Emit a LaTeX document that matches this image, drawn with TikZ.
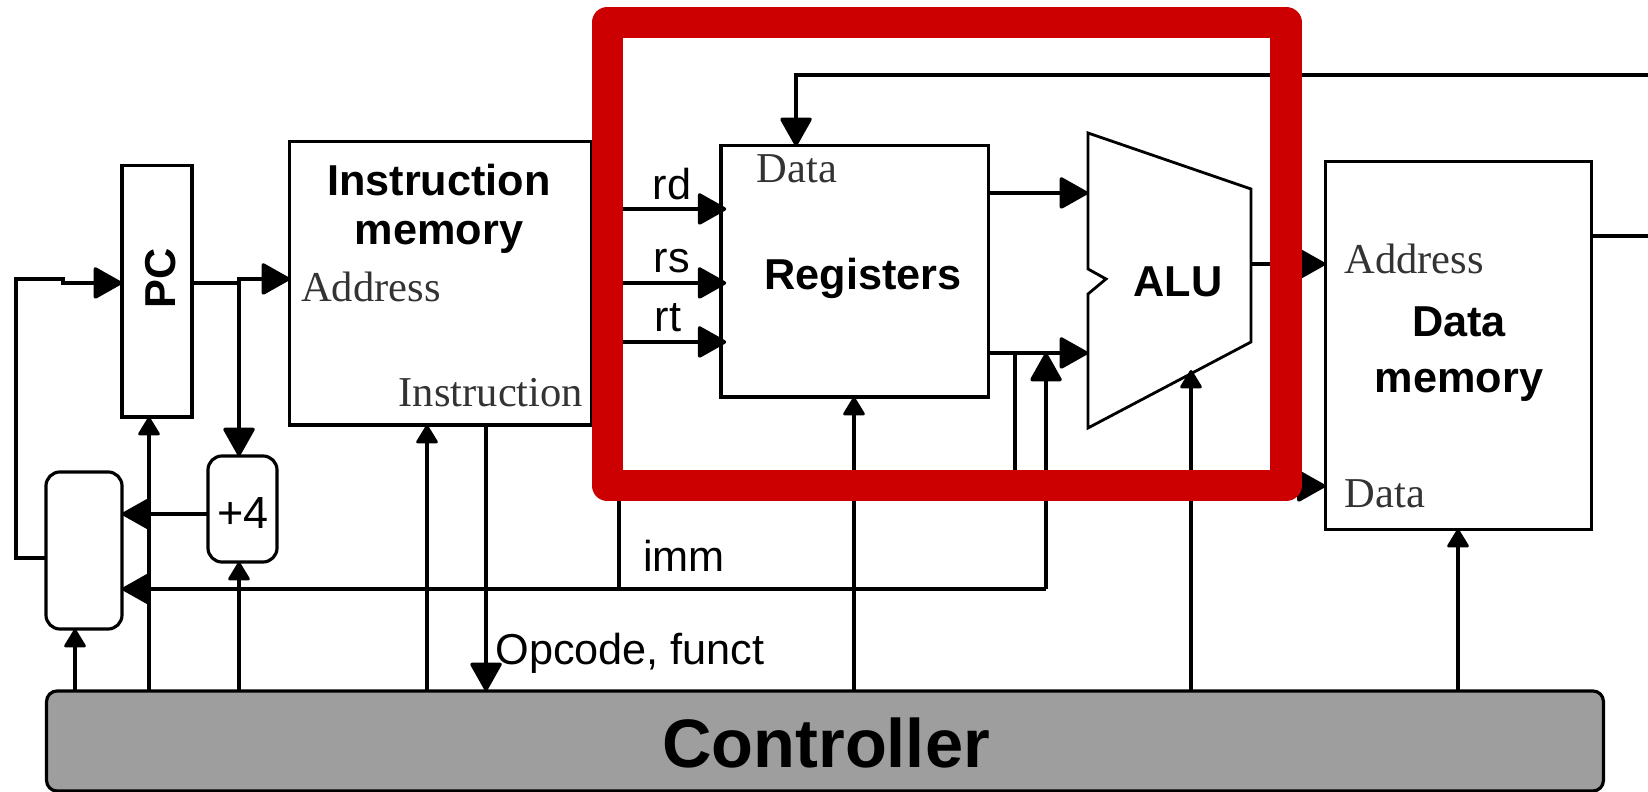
\documentclass[tikz,border=0pt]{standalone}
\usepackage{fontspec}
\setmainfont{Liberation Sans}
\newfontfamily\seriflabel{Liberation Serif}
\usetikzlibrary{arrows.meta}
\definecolor{framered}{HTML}{CC0000}
\definecolor{ctrlgray}{HTML}{9E9E9E}
\tikzset{
  unitbox/.style={draw=black, line width=0.9pt, outer sep=0pt, inner sep=0pt},
  bigwire/.style={draw=black, line width=0.9pt, -{Triangle[length=8.6pt, width=9.4pt, round, line width=1pt]}},
  smallwire/.style={draw=black, line width=0.9pt, -{Triangle[length=5.6pt, width=6.6pt, round, line width=0.8pt]}},
  plainwire/.style={draw=black, line width=0.9pt},
  boldlabel/.style={font=\fontsize{12.3}{14}\selectfont\bfseries, align=center, inner sep=0pt},
  sanslabel/.style={font=\fontsize{12.3}{14}\selectfont, inner sep=0pt},
  portlabel/.style={font=\fontsize{12.1}{14}\selectfont\seriflabel, text=black!80, inner sep=0pt}
}

\begin{document}
\begin{tikzpicture}[x=0.01cm, y=-0.01cm, line join=miter]
    \useasboundingbox (0,0) rectangle (1648,792);

    % Functional units
    \node[unitbox, minimum width=0.70cm, minimum height=2.51cm] (pcbox) at (157,291.5) {};
    \node[unitbox, minimum width=3.01cm, minimum height=2.83cm] (imem) at (440.5,283.5) {};
    \node[unitbox, rounded corners=4pt, minimum width=0.76cm, minimum height=1.57cm] (muxbox) at (84,550.5) {};
    \node[unitbox, rounded corners=4pt, minimum width=0.69cm, minimum height=1.06cm] (addbox) at (242.5,509) {};
    \node[unitbox, minimum width=2.67cm, minimum height=2.51cm] (regs) at (854.5,271.5) {};
    \node[unitbox, minimum width=2.66cm, minimum height=3.67cm] (dmem) at (1458.5,345.5) {};
    \node[unitbox, rounded corners=3pt, fill=ctrlgray, minimum width=15.56cm, minimum height=1.00cm] (ctrl) at (825,741) {};

    % ALU outline with its notch
    \draw[line width=0.8pt] (1088,133) -- (1251,189) -- (1251,342) -- (1088,428)
      -- (1088,294) -- (1106,279) -- (1088,269) -- cycle;
    \coordinate (alutop) at (1088,193);
    \coordinate (alulow) at (1088,353);
    \coordinate (aluedge) at (1191,370);

    % Labels of the units
    \node[boldlabel, rotate=90] (pclabel) at (161,278) {PC};
    \node[boldlabel] (imemlabel) at (439,209) {Instruction\\memory};
    \node[boldlabel] (regslabel) at (863,278) {Registers};
    \node[boldlabel] (alulabel) at (1178,282) {ALU};
    \node[boldlabel] (dmemlabel) at (1459,354) {Data\\[2pt]memory};
    \node[boldlabel, font=\fontsize{19.5}{22}\selectfont\bfseries] (ctrllabel) at (826,743) {Controller};
    \node[sanslabel, font=\fontsize{12.8}{14}\selectfont] (addlabel) at (243,513) {+4};

    % Port labels
    \node[portlabel] (imemaddr) at (371,287) {Address};
    \node[portlabel] (imeminstr) at (491,393) {Instruction};
    \node[portlabel] (regsdata) at (797,169) {Data};
    \node[portlabel] (dmemaddr) at (1414,259) {Address};
    \node[portlabel] (dmemdata) at (1385,494) {Data};

    % Wire labels
    \node[sanslabel] (rdlabel) at (672,184) {rd};
    \node[sanslabel] (rslabel) at (672,261) {rs};
    \node[sanslabel] (rtlabel) at (668,318) {rt};
    \node[sanslabel] (immlabel) at (684,556) {imm};
    \node[sanslabel] (oplabel) at (630,653) {Opcode, funct};

    % PC and its feedback from the mux
    \coordinate (pcout) at (239,283);
    \coordinate (pcjog) at (239,279);
    \draw[bigwire] (pcbox.east |- pcout) -- (pcout) -- (pcjog) -- (imem.west |- pcjog);
    \draw[bigwire] (pcjog) -- (addbox.north -| pcjog);
    \coordinate (muxback) at (16,558);
    \coordinate (muxup) at (16,279);
    \coordinate (muxend) at (63,279);
    \coordinate (pcin) at (63,283);
    \draw[bigwire] (muxbox.west |- muxback) -- (muxback) -- (muxup) -- (muxend) -- (pcin) -- (pcbox.west |- pcin);
    \draw[bigwire] (addbox.west |- 0,514) -- (muxbox.east |- 0,514);

    % Instruction fields into the registers
    \draw[bigwire, shorten >=-1.5pt] (imem.east |- 0,209) -- (regs.west |- 0,209);
    \draw[bigwire, shorten >=-1.5pt] (imem.east |- 0,283) -- (regs.west |- 0,283);
    \draw[bigwire, shorten >=-1.5pt] (imem.east |- 0,342) -- (regs.west |- 0,342);

    % Immediate
    \coordinate (immtap) at (619,400);
    \coordinate (immdown) at (619,589);
    \coordinate (immjoin) at (1046,589);
    \coordinate (regjoin) at (1046,353);
    \draw[plainwire] (imem.east |- immtap) -- (immtap) -- (immdown);
    \draw[bigwire] (immjoin) -- (muxbox.east |- immjoin);
    \draw[bigwire] (immjoin) -- (regjoin);

    % Registers to ALU and data memory
    \draw[bigwire] (regs.east |- alutop) -- (alutop);
    \draw[bigwire] (regs.east |- alulow) -- (alulow);
    \coordinate (storetap) at (1015,353);
    \coordinate (storedown) at (1015,486);
    \draw[bigwire] (storetap) -- (storedown) -- (dmem.west |- storedown);
    \draw[bigwire] (1251,264) -- (dmem.west |- 0,264);

    % Write back and data memory output
    \coordinate (wbfree) at (1648,75);
    \coordinate (wbdrop) at (796,75);
    \coordinate (dmemfree) at (1648,236);
    \draw[bigwire] (wbfree) -- (wbdrop) -- (regs.north -| wbdrop);
    \draw[plainwire] (dmem.east |- dmemfree) -- (dmemfree);

    % Control lines out of the controller
    \draw[smallwire] (ctrl.north -| 75,0) -- (muxbox.south -| 75,0);
    \draw[smallwire] (ctrl.north -| 149,0) -- (pcbox.south -| 149,0);
    \draw[smallwire] (ctrl.north -| 239,0) -- (addbox.south -| 239,0);
    \draw[smallwire] (ctrl.north -| 427,0) -- (imem.south -| 427,0);
    \draw[smallwire] (ctrl.north -| 854,0) -- (regs.south -| 854,0);
    \draw[smallwire] (ctrl.north -| aluedge) -- (aluedge);
    \draw[smallwire] (ctrl.north -| 1458,0) -- (dmem.south -| 1458,0);
    \draw[bigwire] (imem.south -| 486,0) -- (ctrl.north -| 486,0);

    % Highlight frame
    \draw[draw=framered, line width=9pt, line join=round] (607.5,22.5) rectangle (1286,485.5);
\end{tikzpicture}
\end{document}
